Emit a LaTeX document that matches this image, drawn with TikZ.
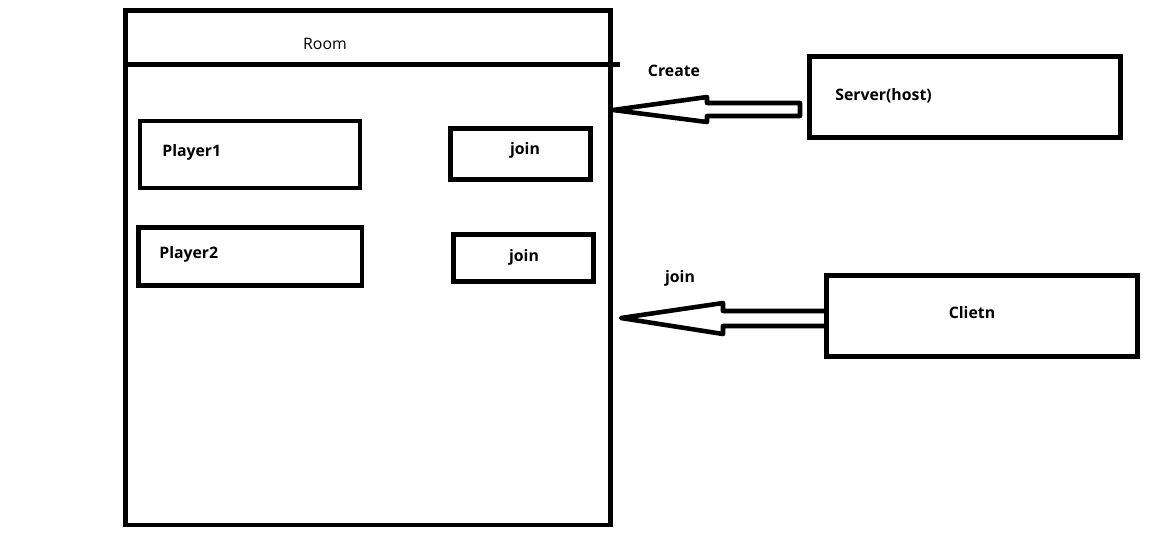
\documentclass[tikz,border=0pt]{standalone}
\usepackage{fontspec}
\setmainfont{Open Sans}
\usetikzlibrary{calc}

\tikzset{
  box/.style={draw, line width=2.8pt, rectangle, inner sep=0pt},
  hollowarrow/.style={draw, line width=2.6pt, line join=round},
  lbl/.style={font=\fontsize{9}{10}\selectfont\bfseries, inner sep=0pt},
}

\begin{document}
\begin{tikzpicture}[x=0.02cm, y=-0.02cm]
  %%%%% START %%%%%
  \useasboundingbox (0,0) rectangle (1153,542);

  % room with its header
  \node[box, minimum width=9.7cm, minimum height=10.29cm] (room) at (368,267.75) {};
  \draw[line width=2.8pt] (room.west |- 0,64.5) -- (620,64.5);
  \node[font=\fontsize{9}{10}\selectfont, inner sep=0pt] (roomname) at (325,44) {Room};

  % players and join buttons
  \node[box, minimum width=4.4cm, minimum height=1.34cm] (player1) at (250,154.5) {};
  \node[lbl, anchor=west] (player1name) at (162,152) {Player1};
  \node[box, minimum width=2.8cm, minimum height=1.02cm] (join1) at (520.5,154) {};
  \node[lbl] (join1name) at (525,150) {join};

  \node[box, minimum width=4.47cm, minimum height=1.16cm] (player2) at (250.25,256.5) {};
  \node[lbl, anchor=west] (player2name) at (159,254) {Player2};
  \node[box, minimum width=2.8cm, minimum height=0.94cm] (join2) at (523.5,258) {};
  \node[lbl] (join2name) at (524,257) {join};

  % server and client
  \node[box, minimum width=6.22cm, minimum height=1.62cm] (server) at (965,97) {};
  \node[lbl, anchor=west] (servername) at (835,96) {Server(host)};
  \node[box, minimum width=6.22cm, minimum height=1.62cm] (clietn) at (982,316) {};
  \node[lbl] (clietnname) at (972,313) {Clietn};

  % create arrow
  \node[lbl] (create) at (674,71) {Create};
  \coordinate (createtip) at (613,110);
  \draw[hollowarrow] (createtip) -- (707,97) -- (707,103) -- (800,103)
    -- (800,116) -- (707,116) -- (707,122) -- cycle;

  % join arrow
  \node[lbl] (joinlabel) at (680,278) {join};
  \coordinate (jointip) at (621,318);
  \draw[hollowarrow] (clietn.west |- 0,311) -- (723,311) -- (723,303) -- (jointip)
    -- (723,334) -- (723,326) -- (clietn.west |- 0,326);
  %%%%% END %%%%%
\end{tikzpicture}
\end{document}
